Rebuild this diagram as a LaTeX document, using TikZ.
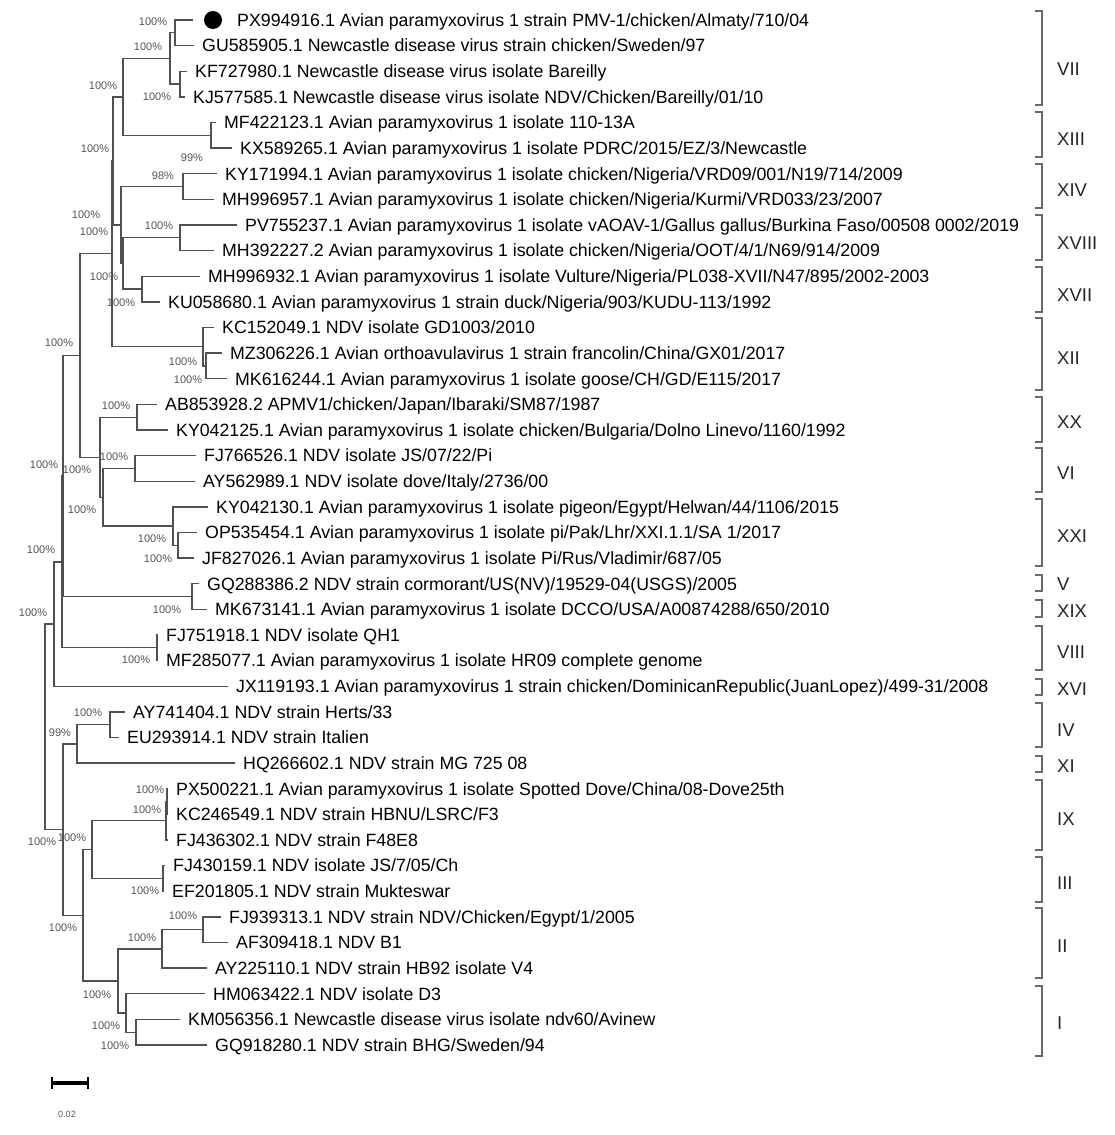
\documentclass[tikz,border=0pt]{standalone}
\usepackage{fontspec}
\setmainfont{Liberation Sans}
\definecolor{treegray}{RGB}{80,80,80}
\definecolor{bootgray}{RGB}{85,85,85}
\definecolor{brkgray}{RGB}{105,105,105}
\begin{document}
\begin{tikzpicture}[x=1pt,y=-1pt,
  br/.style={draw=treegray,line width=1.3pt},
  leaf/.style={anchor=base west,inner sep=0pt,font=\fontsize{17.75}{20}\selectfont,text=black},
  boot/.style={inner sep=0pt,font=\fontsize{11}{13}\selectfont,text=bootgray},
  clade/.style={anchor=west,inner sep=0pt,font=\fontsize{18.5}{21}\selectfont,text=black!85},
  brk/.style={draw=brkgray,line width=1.3pt}]
\useasboundingbox[fill=white] (0,0) rectangle (1115,1135);

% ---- leaf tips
\coordinate (l1) at (193,20);
\coordinate (l2) at (194,45.625);
\coordinate (l3) at (187,71.25);
\coordinate (l4) at (185,96.875);
\coordinate (l5) at (216,122.5);
\coordinate (l6) at (232,148.125);
\coordinate (l7) at (217,173.75);
\coordinate (l8) at (214,199.375);
\coordinate (l9) at (237,225);
\coordinate (l10) at (214,250.625);
\coordinate (l11) at (200,276.25);
\coordinate (l12) at (160,301.875);
\coordinate (l13) at (214,327.5);
\coordinate (l14) at (222,353.125);
\coordinate (l15) at (227,378.75);
\coordinate (l16) at (157,404.375);
\coordinate (l17) at (168,430);
\coordinate (l18) at (196,455.625);
\coordinate (l19) at (195,481.25);
\coordinate (l20) at (208,506.875);
\coordinate (l21) at (197,532.5);
\coordinate (l22) at (194,558.125);
\coordinate (l23) at (199,583.75);
\coordinate (l24) at (207,609.375);
\coordinate (l25) at (158,635);
\coordinate (l26) at (158,660.625);
\coordinate (l27) at (228,686.25);
\coordinate (l28) at (125,711.875);
\coordinate (l29) at (119,737.5);
\coordinate (l30) at (235,763.125);
\coordinate (l31) at (168,788.75);
\coordinate (l32) at (168,814.375);
\coordinate (l33) at (168,840);
\coordinate (l34) at (165,865.625);
\coordinate (l35) at (164,891.25);
\coordinate (l36) at (221,916.875);
\coordinate (l37) at (228,942.5);
\coordinate (l38) at (207,968.125);
\coordinate (l39) at (205,993.75);
\coordinate (l40) at (180,1019.375);
\coordinate (l41) at (207,1045);

% ---- internal nodes
\coordinate (nA) at (175,32.81);
\coordinate (nC) at (180,84.06);
\coordinate (nB) at (170,58.44);
\coordinate (nE) at (211,135.31);
\coordinate (nD) at (123,96.88);
\coordinate (nXIV) at (183,186.56);
\coordinate (nXVIII) at (180,237.81);
\coordinate (nXVII) at (142,289.06);
\coordinate (nN2) at (123,263.44);
\coordinate (nN1) at (121,225);
\coordinate (nN3a) at (113,160.94);
\coordinate (nXIIb) at (206,365.94);
\coordinate (nXII) at (203,346.72);
\coordinate (nN3b) at (112,253.83);
\coordinate (nXX) at (137,417.19);
\coordinate (nVI) at (135,468.44);
\coordinate (nXXIb) at (178,545.31);
\coordinate (nXXI) at (173,526.09);
\coordinate (nN6) at (103,497.27);
\coordinate (nN5) at (100,457.23);
\coordinate (nN4) at (80,355.53);
\coordinate (nVXIX) at (192,596.56);
\coordinate (nN7a) at (63,476.05);
\coordinate (nVIII) at (157,647.81);
\coordinate (nN7b) at (62,561.93);
\coordinate (nN8) at (54,624.09);
\coordinate (nIV) at (110,724.69);
\coordinate (nN11) at (77,743.91);
\coordinate (nIXb) at (167,801.56);
\coordinate (nIX) at (166,820.78);
\coordinate (nIII) at (163,878.44);
\coordinate (nN14) at (92,849.61);
\coordinate (nIIb) at (203,929.69);
\coordinate (nII) at (162,948.91);
\coordinate (nN17) at (136,1032.19);
\coordinate (nN16) at (126,1012.97);
\coordinate (nN15) at (118,980.94);
\coordinate (nN13) at (83,915.27);
\coordinate (nN12) at (63,829.59);
\coordinate (root) at (45,726.84);

% ---- branches
\draw[br] (nA) |- (l1) (nA) |- (l2);
\draw[br] (nC) |- (l3) (nC) |- (l4);
\draw[br] (nB) |- (nA) (nB) |- (nC);
\draw[br] (nE) |- (l5) (nE) |- (l6);
\draw[br] (nD) |- (nB) (nD) |- (nE);
\draw[br] (nXIV) |- (l7) (nXIV) |- (l8);
\draw[br] (nXVIII) |- (l9) (nXVIII) |- (l10);
\draw[br] (nXVII) |- (l11) (nXVII) |- (l12);
\draw[br] (nN2) |- (nXVIII) (nN2) |- (nXVII);
\draw[br] (nN1) |- (nXIV) (nN1) |- (nN2);
\draw[br] (nN3a) |- (nD) (nN3a) |- (nN1);
\draw[br] (nXIIb) |- (l14) (nXIIb) |- (l15);
\draw[br] (nXII) |- (l13) (nXII) |- (nXIIb);
\draw[br] (nN3b) |- (nN3a) (nN3b) |- (nXII);
\draw[br] (nXX) |- (l16) (nXX) |- (l17);
\draw[br] (nVI) |- (l18) (nVI) |- (l19);
\draw[br] (nXXIb) |- (l21) (nXXIb) |- (l22);
\draw[br] (nXXI) |- (l20) (nXXI) |- (nXXIb);
\draw[br] (nN6) |- (nVI) (nN6) |- (nXXI);
\draw[br] (nN5) |- (nXX) (nN5) |- (nN6);
\draw[br] (nN4) |- (nN3b) (nN4) |- (nN5);
\draw[br] (nVXIX) |- (l23) (nVXIX) |- (l24);
\draw[br] (nN7a) |- (nN4) (nN7a) |- (nVXIX);
\draw[br] (nVIII) |- (l25) (nVIII) |- (l26);
\draw[br] (nN7b) |- (nN7a) (nN7b) |- (nVIII);
\draw[br] (nN8) |- (nN7b) (nN8) |- (l27);
\draw[br] (nIV) |- (l28) (nIV) |- (l29);
\draw[br] (nN11) |- (nIV) (nN11) |- (l30);
\draw[br] (nIXb) |- (l31) (nIXb) |- (l32);
\draw[br] (nIX) |- (nIXb) (nIX) |- (l33);
\draw[br] (nIII) |- (l34) (nIII) |- (l35);
\draw[br] (nN14) |- (nIX) (nN14) |- (nIII);
\draw[br] (nIIb) |- (l36) (nIIb) |- (l37);
\draw[br] (nII) |- (nIIb) (nII) |- (l38);
\draw[br] (nN17) |- (l40) (nN17) |- (l41);
\draw[br] (nN16) |- (l39) (nN16) |- (nN17);
\draw[br] (nN15) |- (nII) (nN15) |- (nN16);
\draw[br] (nN13) |- (nN14) (nN13) |- (nN15);
\draw[br] (nN12) |- (nN11) (nN12) |- (nN13);
\draw[br] (root) |- (nN8) (root) |- (nN12);

% ---- marker
\node[circle,fill=black,minimum size=18pt,inner sep=0pt] (dot) at (213,20) {};

% ---- leaf labels
\node[leaf] (t1) at (237,26.3) {PX994916.1 Avian paramyxovirus 1 strain PMV-1/chicken/Almaty/710/04};
\node[leaf] (t2) at ([xshift=8pt,yshift=-6.3pt]l2) {GU585905.1 Newcastle disease virus strain chicken/Sweden/97};
\node[leaf] (t3) at ([xshift=8pt,yshift=-6.3pt]l3) {KF727980.1 Newcastle disease virus isolate Bareilly};
\node[leaf] (t4) at ([xshift=8pt,yshift=-6.3pt]l4) {KJ577585.1 Newcastle disease virus isolate NDV/Chicken/Bareilly/01/10};
\node[leaf] (t5) at ([xshift=8pt,yshift=-6.3pt]l5) {MF422123.1 Avian paramyxovirus 1 isolate 110-13A};
\node[leaf] (t6) at ([xshift=8pt,yshift=-6.3pt]l6) {KX589265.1 Avian paramyxovirus 1 isolate PDRC/2015/EZ/3/Newcastle};
\node[leaf] (t7) at ([xshift=8pt,yshift=-6.3pt]l7) {KY171994.1 Avian paramyxovirus 1 isolate chicken/Nigeria/VRD09/001/N19/714/2009};
\node[leaf] (t8) at ([xshift=8pt,yshift=-6.3pt]l8) {MH996957.1 Avian paramyxovirus 1 isolate chicken/Nigeria/Kurmi/VRD033/23/2007};
\node[leaf] (t9) at ([xshift=8pt,yshift=-6.3pt]l9) {PV755237.1 Avian paramyxovirus 1 isolate vAOAV-1/Gallus gallus/Burkina Faso/00508 0002/2019};
\node[leaf] (t10) at ([xshift=8pt,yshift=-6.3pt]l10) {MH392227.2 Avian paramyxovirus 1 isolate chicken/Nigeria/OOT/4/1/N69/914/2009};
\node[leaf] (t11) at ([xshift=8pt,yshift=-6.3pt]l11) {MH996932.1 Avian paramyxovirus 1 isolate Vulture/Nigeria/PL038-XVII/N47/895/2002-2003};
\node[leaf] (t12) at ([xshift=8pt,yshift=-6.3pt]l12) {KU058680.1 Avian paramyxovirus 1 strain duck/Nigeria/903/KUDU-113/1992};
\node[leaf] (t13) at ([xshift=8pt,yshift=-6.3pt]l13) {KC152049.1 NDV isolate GD1003/2010};
\node[leaf] (t14) at ([xshift=8pt,yshift=-6.3pt]l14) {MZ306226.1 Avian orthoavulavirus 1 strain francolin/China/GX01/2017};
\node[leaf] (t15) at ([xshift=8pt,yshift=-6.3pt]l15) {MK616244.1 Avian paramyxovirus 1 isolate goose/CH/GD/E115/2017};
\node[leaf] (t16) at ([xshift=8pt,yshift=-6.3pt]l16) {AB853928.2 APMV1/chicken/Japan/Ibaraki/SM87/1987};
\node[leaf] (t17) at ([xshift=8pt,yshift=-6.3pt]l17) {KY042125.1 Avian paramyxovirus 1 isolate chicken/Bulgaria/Dolno Linevo/1160/1992};
\node[leaf] (t18) at ([xshift=8pt,yshift=-6.3pt]l18) {FJ766526.1 NDV isolate JS/07/22/Pi};
\node[leaf] (t19) at ([xshift=8pt,yshift=-6.3pt]l19) {AY562989.1 NDV isolate dove/Italy/2736/00};
\node[leaf] (t20) at ([xshift=8pt,yshift=-6.3pt]l20) {KY042130.1 Avian paramyxovirus 1 isolate pigeon/Egypt/Helwan/44/1106/2015};
\node[leaf] (t21) at ([xshift=8pt,yshift=-6.3pt]l21) {OP535454.1 Avian paramyxovirus 1 isolate pi/Pak/Lhr/XXI.1.1/SA 1/2017};
\node[leaf] (t22) at ([xshift=8pt,yshift=-6.3pt]l22) {JF827026.1 Avian paramyxovirus 1 isolate Pi/Rus/Vladimir/687/05};
\node[leaf] (t23) at ([xshift=8pt,yshift=-6.3pt]l23) {GQ288386.2 NDV strain cormorant/US(NV)/19529-04(USGS)/2005};
\node[leaf] (t24) at ([xshift=8pt,yshift=-6.3pt]l24) {MK673141.1 Avian paramyxovirus 1 isolate DCCO/USA/A00874288/650/2010};
\node[leaf] (t25) at ([xshift=8pt,yshift=-6.3pt]l25) {FJ751918.1 NDV isolate QH1};
\node[leaf] (t26) at ([xshift=8pt,yshift=-6.3pt]l26) {MF285077.1 Avian paramyxovirus 1 isolate HR09 complete genome};
\node[leaf] (t27) at ([xshift=8pt,yshift=-6.3pt]l27) {JX119193.1 Avian paramyxovirus 1 strain chicken/DominicanRepublic(JuanLopez)/499-31/2008};
\node[leaf] (t28) at ([xshift=8pt,yshift=-6.3pt]l28) {AY741404.1 NDV strain Herts/33};
\node[leaf] (t29) at ([xshift=8pt,yshift=-6.3pt]l29) {EU293914.1 NDV strain Italien};
\node[leaf] (t30) at ([xshift=8pt,yshift=-6.3pt]l30) {HQ266602.1 NDV strain MG 725 08};
\node[leaf] (t31) at ([xshift=8pt,yshift=-6.3pt]l31) {PX500221.1 Avian paramyxovirus 1 isolate Spotted Dove/China/08-Dove25th};
\node[leaf] (t32) at ([xshift=8pt,yshift=-6.3pt]l32) {KC246549.1 NDV strain HBNU/LSRC/F3};
\node[leaf] (t33) at ([xshift=8pt,yshift=-6.3pt]l33) {FJ436302.1 NDV strain F48E8};
\node[leaf] (t34) at ([xshift=8pt,yshift=-6.3pt]l34) {FJ430159.1 NDV isolate JS/7/05/Ch};
\node[leaf] (t35) at ([xshift=8pt,yshift=-6.3pt]l35) {EF201805.1 NDV strain Mukteswar};
\node[leaf] (t36) at ([xshift=8pt,yshift=-6.3pt]l36) {FJ939313.1 NDV strain NDV/Chicken/Egypt/1/2005};
\node[leaf] (t37) at ([xshift=8pt,yshift=-6.3pt]l37) {AF309418.1 NDV B1};
\node[leaf] (t38) at ([xshift=8pt,yshift=-6.3pt]l38) {AY225110.1 NDV strain HB92 isolate V4};
\node[leaf] (t39) at ([xshift=8pt,yshift=-6.3pt]l39) {HM063422.1 NDV isolate D3};
\node[leaf] (t40) at ([xshift=8pt,yshift=-6.3pt]l40) {KM056356.1 Newcastle disease virus isolate ndv60/Avinew};
\node[leaf] (t41) at ([xshift=8pt,yshift=-6.3pt]l41) {GQ918280.1 NDV strain BHG/Sweden/94};

% ---- bootstrap values
\node[boot] (b1) at (153,22) {100\%};
\node[boot] (b2) at (148,47) {100\%};
\node[boot] (b3) at (103,86) {100\%};
\node[boot] (b4) at (157,97) {100\%};
\node[boot] (b5) at (95,149) {100\%};
\node[boot] (b6) at (192,158) {99\%};
\node[boot] (b7) at (163,176) {98\%};
\node[boot] (b8) at (86,215) {100\%};
\node[boot] (b9) at (94,232) {100\%};
\node[boot] (b10) at (159,226) {100\%};
\node[boot] (b11) at (104,277) {100\%};
\node[boot] (b12) at (121,303) {100\%};
\node[boot] (b13) at (59,343) {100\%};
\node[boot] (b14) at (183,362) {100\%};
\node[boot] (b15) at (188,380) {100\%};
\node[boot] (b16) at (116,406) {100\%};
\node[boot] (b17) at (114,457) {100\%};
\node[boot] (b18) at (44,465) {100\%};
\node[boot] (b19) at (77,470) {100\%};
\node[boot] (b20) at (82,510) {100\%};
\node[boot] (b21) at (152,539) {100\%};
\node[boot] (b22) at (158,559) {100\%};
\node[boot] (b23) at (41,550) {100\%};
\node[boot] (b24) at (167,610) {100\%};
\node[boot] (b25) at (33,613) {100\%};
\node[boot] (b26) at (136,660) {100\%};
\node[boot] (b27) at (88,713) {100\%};
\node[boot] (b28) at (60,733) {99\%};
\node[boot] (b29) at (150,790) {100\%};
\node[boot] (b30) at (147,810) {100\%};
\node[boot] (b31) at (42,842) {100\%};
\node[boot] (b32) at (72,838) {100\%};
\node[boot] (b33) at (145,891) {100\%};
\node[boot] (b34) at (63,928) {100\%};
\node[boot] (b35) at (183,916) {100\%};
\node[boot] (b36) at (142,938) {100\%};
\node[boot] (b37) at (97,995) {100\%};
\node[boot] (b38) at (106,1026) {100\%};
\node[boot] (b39) at (115,1046) {100\%};

% ---- clade brackets
\foreach \t/\b/\m/\lab in {11/105/69/VII, 112/157/139/XIII, 164/208/190/XIV,
  215/260/243/XVIII, 267/312/295/XVII, 318/390/358/XII, 397/442/422/XX,
  448/492/473/VI, 499/566/536/XXI, 575/591/584/V, 600/617/611/XIX,
  626/670/652/VIII, 679/695/689/XVI, 703/747/730/IV, 756/772/766/XI,
  780/850/819/IX, 857/902/883/III, 908/978/946/II, 986/1056/1023/I}{
  \draw[brk] (1035,\t) -- (1042,\t) -- (1042,\b) -- (1035,\b);
  \node[clade] (c\lab) at (1057,\m) {\lab};
}

% ---- scale bar
\coordinate (s1) at (52,1083);
\coordinate (s2) at (88,1083);
\draw[line width=3.5pt] (s1) -- (s2);
\draw[line width=2.5pt] ([yshift=-6pt]s1) -- ([yshift=6pt]s1);
\draw[line width=2.5pt] ([yshift=-6pt]s2) -- ([yshift=6pt]s2);
\node[boot,font=\fontsize{9}{11}\selectfont] (slab) at (67,1114) {0.02};
\end{tikzpicture}
\end{document}
